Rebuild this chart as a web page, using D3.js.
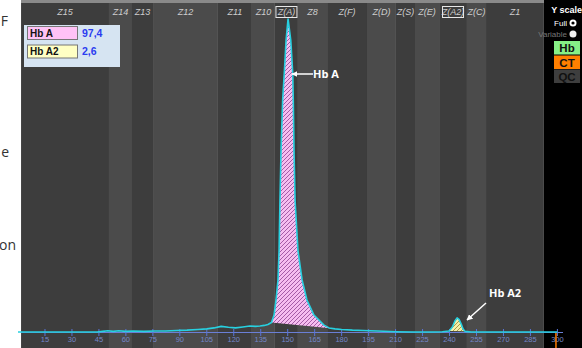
<!DOCTYPE html>
<html>
<head>
<meta charset="utf-8">
<script src="https://cdn.jsdelivr.net/npm/d3@7"></script>
<style>
  html, body { margin: 0; padding: 0; background: #ffffff; }
  svg { display: block; }
</style>
</head>
<body>
<svg id="chart" width="582" height="348"></svg>
<script>
// ---------------- DATA ----------------
const zoneLabels = ["Z15","Z14","Z13","Z12","Z11","Z10","Z(A)","Z8","Z(F)","Z(D)","Z(S)","Z(E)","Z(A2)","Z(C)","Z1"];
const zoneEdges  = [1.7, 50.6, 63.4, 75.1, 111.2, 130.1, 142.9, 155.7, 171.9, 194.1, 210.2, 220.8, 234.2, 249.7, 260.3, 292.5];
const boxedZones = ["Z(A)", "Z(A2)"];
const tickValues = [15,30,45,60,75,90,105,120,135,150,165,180,195,210,225,240,255,270,285,300];

const traceTime   = [0,44,47,50,53,56,60,64,70,76,82,88,94,100,105,109,113,117,121,125,129,132,134.6,137,139,141,142.4,143.5,144.6,145.2,145.7,146.3,147.2,148.1,149.1,150.2,151.7,152.8,153.1,153.5,154.1,155.7,158.0,160.7,164.6,170.2,173,176.3,180,186,192,200,210,220,230,236,239.7,241.5,243,244.2,245.3,246.5,247.5,248.6,252,300];
const traceSignal = [0,0,0.2,0.4,0.2,0.4,0.2,0.3,0.2,0.3,0.3,0.5,0.6,0.8,1.0,1.3,1.8,1.5,1.3,1.6,1.9,1.8,1.9,2.1,2.4,3.0,5.4,10.2,16.6,26,42,58,74,82.5,93,99.7,93,82.5,74,58,42,26,16.6,10.2,5.4,2.2,1.3,1.0,0.8,0.6,0.5,0.3,0.1,0,0,0.1,0.3,1.5,3.5,4.5,4.0,2.5,1.0,0.2,0,0];

const peakNames    = ["Hb A", "Hb A2"];
const peakPercents = ["97,4", "2,6"];
const peakStart    = [141, 239.7];
const peakEnd      = [176.3, 248.6];
const markerTime   = 299.2;

// ---------------- SETUP ----------------
const svg = d3.select("#chart");
const W = 582, H = 348;
const x = d3.scaleLinear().domain([0, 300]).range([18, 557.4]);
const y = d3.scaleLinear().domain([0, 100]).range([332, 18]);
const plotLeft = 21, plotRight = 544, plotTop = 3;

const defs = svg.append("defs");
function hatch(id, bg, fg) {
  const p = defs.append("pattern").attr("id", id).attr("patternUnits", "userSpaceOnUse")
    .attr("width", 4).attr("height", 4);
  p.append("rect").attr("width", 4).attr("height", 4).attr("fill", bg);
  p.append("path").attr("d", "M-1,1 l2,-2 M0,4 l4,-4 M3,5 l2,-2")
    .attr("stroke", fg).attr("stroke-width", 1);
}
hatch("hatchA", "#f6bdf0", "#a45ca6");
hatch("hatchA2", "#f4f0a8", "#a89a48");
defs.append("clipPath").attr("id", "plotClip").append("rect")
  .attr("x", plotLeft).attr("y", plotTop).attr("width", plotRight - plotLeft).attr("height", H - plotTop);

// left page text fragments
const pageText = svg.append("g").attr("font-family", "'Open Sans', 'Liberation Sans', sans-serif")
  .attr("font-size", 14).attr("fill", "#333").attr("text-anchor", "end");
pageText.append("text").attr("x", 8).attr("y", 26).text("F");
pageText.append("text").attr("x", 9).attr("y", 157).text("e");
pageText.append("text").attr("x", 16).attr("y", 250).text("on");

// top gray border
svg.append("rect").attr("x", plotLeft).attr("y", 0).attr("width", W - plotLeft).attr("height", plotTop)
  .attr("fill", "#8a8a8a");

// zone bands
const zones = zoneLabels.map((lab, i) => ({ lab, a: zoneEdges[i], b: zoneEdges[i + 1], i }));
svg.append("g").selectAll("rect").data(zones).join("rect")
  .attr("x", d => x(d.a)).attr("y", plotTop)
  .attr("width", d => x(d.b) - x(d.a)).attr("height", H - plotTop)
  .attr("fill", d => d.i % 2 === 0 ? "#3d3d3d" : "#4b4b4b");

// zone header labels
const zl = svg.append("g").attr("font-family", "'Liberation Sans', Arial, sans-serif")
  .attr("font-size", 9).attr("font-style", "italic").attr("fill", "#cfcfcf").attr("text-anchor", "middle");
zl.selectAll("text").data(zones).join("text")
  .attr("x", d => (x(d.a) + x(d.b)) / 2).attr("y", 15).text(d => d.lab);
zl.selectAll("rect").data(zones.filter(d => boxedZones.includes(d.lab))).join("rect")
  .attr("x", d => (x(d.a) + x(d.b)) / 2 - 10.5).attr("y", 6.5).attr("width", 21).attr("height", 11)
  .attr("fill", "none").attr("stroke", "#e8e8e8").attr("stroke-width", 1);

// black right panel
svg.append("rect").attr("x", plotRight).attr("y", 0).attr("width", W - plotRight).attr("height", H).attr("fill", "#000");

// axis
const axis = svg.append("g");
axis.append("line").attr("x1", plotLeft).attr("x2", 563).attr("y1", 332.5).attr("y2", 332.5)
  .attr("stroke", "#6a7fd6").attr("stroke-width", 1.2);
axis.selectAll("line.tick").data(tickValues).join("line").attr("class", "tick")
  .attr("x1", d => x(d)).attr("x2", d => x(d)).attr("y1", 329).attr("y2", 336)
  .attr("stroke", "#5a74d8").attr("stroke-width", 1);
axis.selectAll("text").data(tickValues).join("text")
  .attr("x", d => x(d)).attr("y", 342).attr("text-anchor", "middle")
  .attr("font-family", "'Liberation Sans', Arial, sans-serif").attr("font-size", 7.5)
  .attr("fill", "#7486c8").text(d => d);

// orange marker
svg.append("line").attr("x1", x(markerTime)).attr("x2", x(markerTime)).attr("y1", 333).attr("y2", H)
  .attr("stroke", "#ff7a00").attr("stroke-width", 1.5);

// trace data
const trace = traceTime.map((t, i) => ({ t, s: traceSignal[i] }));

// peak fills
const fills = ["url(#hatchA)", "url(#hatchA2)"];
const gPeaks = svg.append("g").attr("clip-path", "url(#plotClip)");
peakNames.forEach((name, i) => {
  const pts = trace.filter(d => d.t >= peakStart[i] && d.t <= peakEnd[i]);
  const first = pts[0], last = pts[pts.length - 1];
  const poly = pts.map(d => [x(d.t), y(d.s)]).concat([[x(last.t), y(last.s)], [x(first.t), y(first.s)]]);
  gPeaks.append("path").attr("d", "M" + poly.join("L") + "Z").attr("fill", fills[i]);
});

// trace line
const line = d3.line().x(d => x(d.t)).y(d => y(d.s));
svg.append("path").datum(trace.filter(d => d.t >= 0)).attr("d", line)
  .attr("fill", "none").attr("stroke", "#27d0e0").attr("stroke-width", 1.6)
  .attr("stroke-linejoin", "round");

// annotations
defs.append("marker").attr("id", "arrow").attr("viewBox", "0 0 10 10").attr("refX", 9).attr("refY", 5)
  .attr("markerWidth", 4).attr("markerHeight", 4).attr("orient", "auto")
  .append("path").attr("d", "M0,0 L10,5 L0,10 Z").attr("fill", "#fff");
const ann = svg.append("g").attr("font-family", "'Open Sans', 'Liberation Sans', sans-serif")
  .attr("font-weight", "bold").attr("font-size", 11).attr("fill", "#fff");
ann.append("line").attr("x1", 313).attr("y1", 74).attr("x2", 292).attr("y2", 74)
  .attr("stroke", "#fff").attr("stroke-width", 1.5).attr("marker-end", "url(#arrow)");
ann.append("text").attr("x", 313).attr("y", 78).text(peakNames[0]);
ann.append("line").attr("x1", 486).attr("y1", 303).attr("x2", 467).attr("y2", 320)
  .attr("stroke", "#fff").attr("stroke-width", 1.5).attr("marker-end", "url(#arrow)");
ann.append("text").attr("x", 489).attr("y", 297).text(peakNames[1]);

// legend
const leg = svg.append("g").attr("font-family", "'Liberation Sans', Arial, sans-serif")
  .attr("font-weight", "bold").attr("font-size", 10);
leg.append("rect").attr("x", 24).attr("y", 25).attr("width", 96).attr("height", 42).attr("fill", "#d6e4f2");
const legFill = ["#ffc2f6", "#ffffc4"];
peakNames.forEach((name, i) => {
  const yy = 26.5 + i * 18.5;
  leg.append("rect").attr("x", 27.5).attr("y", yy).attr("width", 50).attr("height", 13)
    .attr("fill", legFill[i]).attr("stroke", "#777").attr("stroke-width", 1);
  leg.append("text").attr("x", 30).attr("y", yy + 10).attr("fill", "#111").text(name);
  leg.append("text").attr("x", 82).attr("y", yy + 10).attr("fill", "#2a3cf0").attr("font-size", 10.5)
    .text(peakPercents[i]);
});

// right panel controls
const rp = svg.append("g").attr("font-family", "'Liberation Sans', Arial, sans-serif");
rp.append("text").attr("x", 582).attr("y", 13).attr("text-anchor", "end").attr("font-size", 9)
  .attr("font-weight", "bold").attr("fill", "#fff").text("Y scale");
rp.append("text").attr("x", 567).attr("y", 26).attr("text-anchor", "end").attr("font-size", 8)
  .attr("fill", "#fff").text("Full");
rp.append("circle").attr("cx", 573).attr("cy", 23).attr("r", 3.5).attr("fill", "#fff");
rp.append("circle").attr("cx", 573).attr("cy", 23).attr("r", 1.6).attr("fill", "#000");
rp.append("text").attr("x", 567).attr("y", 37).attr("text-anchor", "end").attr("font-size", 8)
  .attr("fill", "#777").text("Variable");
rp.append("circle").attr("cx", 573).attr("cy", 34).attr("r", 3.5).attr("fill", "#eee");
const btnLabels = ["Hb", "CT", "QC"];
const btnFill = ["#86f086", "#ff7f00", "#3e3e3e"];
const btnY = [41, 55.5, 69.5];
btnLabels.forEach((b, i) => {
  rp.append("rect").attr("x", 554).attr("y", btnY[i]).attr("width", 26).attr("height", 13.5)
    .attr("fill", btnFill[i]);
  rp.append("text").attr("x", 567).attr("y", btnY[i] + 11).attr("text-anchor", "middle")
    .attr("font-size", 11.5).attr("font-weight", "bold").attr("fill", "#111").text(b);
});
</script>
</body>
</html>
